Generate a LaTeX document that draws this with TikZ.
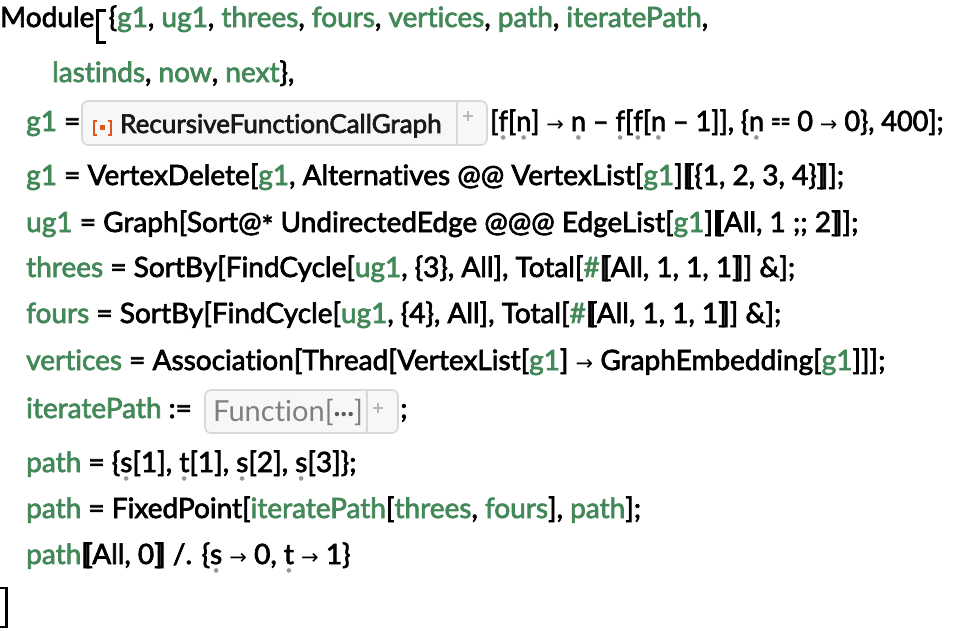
\documentclass[tikz,border=0pt]{standalone}
\usepackage{graphicx}
\usepackage{fontspec}
\setmainfont{Lato}[Ligatures={NoCommon,NoRequired,NoContextual}, FakeBold=2.5]
\newfontfamily\narrowfont{Lato}[Ligatures={NoCommon,NoRequired,NoContextual}, FakeBold=2.5, FakeStretch=0.965]
\newfontfamily\boxfont{Lato}[Ligatures={NoCommon,NoRequired,NoContextual}]
\newfontfamily\djv{DejaVu Sans}
\definecolor{vg}{RGB}{67,136,88}
\definecolor{dotc}{RGB}{150,150,150}
\definecolor{boxfill}{RGB}{246,247,248}
\definecolor{boxline}{RGB}{214,216,218}
\definecolor{iconc}{RGB}{224,84,30}
\definecolor{fgrey}{RGB}{128,128,128}
\definecolor{plusc}{RGB}{185,185,185}
\newcommand\V[1]{\textcolor{vg}{#1}}
\newcommand\fv[1]{\setbox0\hbox{#1}\rlap{\hbox to\wd0{\hss\raisebox{-8.5pt}{\djv\fontsize{6}{6}\selectfont\textcolor{dotc}{●}}\hss}}\box0\relax}
\newcommand\ar{{\djv\fontsize{21}{21}\selectfont →}}
\newcommand\eqeq{\scalebox{0.62}[1]{==}}
\newcommand\LB{[\kern-0.2em[}
\newcommand\RB{]\kern-0.2em]}
\tikzset{
  code/.style={anchor=base west, inner sep=0pt, font=\fontsize{28}{34}\selectfont, text=black},
  boxtext/.style={anchor=base west, inner sep=0pt, font=\fontsize{26}{30}\selectfont, text=black!90},
  fbox/.style={draw=boxline, fill=boxfill, line width=1.6pt, rounded corners=6pt},
  sep/.style={draw=boxline, line width=1.2pt},
  plus/.style={draw=plusc, line width=2.4pt},
  brk/.style={draw=black, line width=2.8pt},
}
\begin{document}
\begin{tikzpicture}[x=1pt,y=-1pt]
\path[use as bounding box] (0,0) rectangle (956,630);
% line 1
\node[code] (l1a) at (0,27) {Module};
\coordinate (bk) at ([xshift=3pt]l1a.base east);
\draw[brk] ([shift={(8.5,-16.5)}]bk) -- ([shift={(0,-16.5)}]bk) -- ([shift={(0,15.5)}]bk) -- ([shift={(8.5,15.5)}]bk);
\node[code] (l1b) at ([shift={(11,0)}]bk) {\{\V{g1}, \V{ug1}, \V{threes}, \V{fours}, \V{vertices}, \V{path}, \V{iteratePath},};
% line 2
\node[code] (l2) at (52,82) {\V{lastinds}, \V{now}, \V{next}\},};
% line 3
\node[code] (l3a) at (26,131) {\V{g1} =};
\draw[fbox] (82,101) rectangle (487,145);
\draw[sep] (457,102) -- (457,144);
\draw[plus] (463,116) -- (473,116) (468,111) -- (468,121);
\draw[iconc, line width=2pt] (96.5,120.5) -- (93.5,120.5) -- (93.5,134.5) -- (96.5,134.5)
  (107.5,120.5) -- (110.5,120.5) -- (110.5,134.5) -- (107.5,134.5);
\fill[iconc] (99.5,125) rectangle (104.5,130);
\node[boxtext] (rfcg) at (120,133) {RecursiveFunctionCallGraph};
\node[code, font=\narrowfont\fontsize{28}{34}\selectfont] (l3b) at (490,131) {[\fv{f}[\fv{n}] \ar{} \fv{n} – \fv{f}[\fv{f}[\fv{n} – 1]], \{\fv{n} \eqeq{} 0 \ar{} 0\}, 400];};
% line 4
\node[code] (l4) at (26,185) {\V{g1} = VertexDelete[\V{g1}, Alternatives @@ VertexList[\V{g1}]\LB\{1, 2, 3, 4\}\RB];};
% line 5
\node[code] (l5) at (26,232) {\V{ug1} = Graph[Sort@\raisebox{-4pt}{*} UndirectedEdge @@@ EdgeList[\V{g1}]\LB All, 1 ;; 2\RB];};
% line 6
\node[code] (l6) at (26,277) {\V{threes} = SortBy[FindCycle[\V{ug1}, \{3\}, All], Total[\V{\#}\LB All, 1, 1, 1\RB] \&];};
% line 7
\node[code] (l7) at (26,323) {\V{fours} = SortBy[FindCycle[\V{ug1}, \{4\}, All], Total[\V{\#}\LB All, 1, 1, 1\RB] \&];};
% line 8
\node[code] (l8) at (26,370) {\V{vertices} = Association[Thread[VertexList[\V{g1}] \ar{} GraphEmbedding[\V{g1}]]];};
% line 9
\node[code] (l9a) at (26,418) {\V{iteratePath} :=};
\draw[fbox] (205,390) rectangle (398,433);
\draw[sep] (367,391) -- (367,432);
\draw[plus] (373,408) -- (383,408) (378,403) -- (378,413);
\node[code, text=fgrey, font=\boxfont\fontsize{29}{34}\selectfont] (fn) at (213,421) {Function[\raisebox{5pt}{\textcolor{black!65}{\bfseries...}}]};
\node[code] (l9b) at (400,418) {;};
% line 10
\node[code] (l10) at (26,472) {\V{path} = \{\fv{s}[1], \fv{t}[1], \fv{s}[2], \fv{s}[3]\};};
% line 11
\node[code] (l11) at (26,518) {\V{path} = FixedPoint[\V{iteratePath}[\V{threes}, \V{fours}], \V{path}];};
% line 12
\node[code] (l12) at (26,564) {\V{path}\LB All, 0\RB{} /. \{\fv{s} \ar{} 0, \fv{t} \ar{} 1\}};
% closing bracket
\draw[brk] (0,588) -- (6.5,588) -- (6.5,627) -- (0,627);
\end{tikzpicture}
\end{document}
